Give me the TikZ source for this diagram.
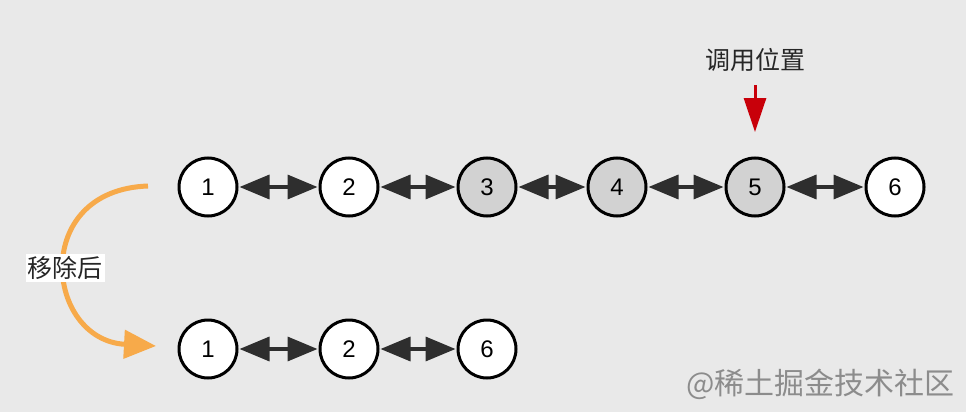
\documentclass[tikz,border=0pt]{standalone}
\usepackage{fontspec}
\setmainfont{Liberation Sans}
\newfontfamily\cjk{Noto Sans CJK SC}
\usetikzlibrary{arrows.meta}
\definecolor{bg}{HTML}{E9E9E9}
\definecolor{dark}{HTML}{2E2E2E}
\definecolor{hl}{HTML}{D2D2D2}
\definecolor{redarr}{HTML}{C8000A}
\definecolor{orng}{HTML}{F7AA4A}
\begin{document}
\begin{tikzpicture}[x=1pt,y=-1pt,
  nd/.style={circle,draw=black,line width=3pt,fill=white,minimum size=58pt,inner sep=0pt,font=\fontsize{24}{24}\selectfont},
  hlnd/.style={nd,fill=hl},
  link/.style={dark,line width=3.5pt,{Triangle[length=30pt,width=24pt]}-{Triangle[length=30pt,width=24pt]},shorten <=1pt,shorten >=1pt},
  lbl/.style={font=\cjk\fontsize{25}{25}\selectfont,text=black!85}]
\fill[bg] (0,0) rectangle (966,412);
\useasboundingbox (0,0) rectangle (966,412);
% top row
\node[nd] (a1) at (208,187) {1};
\node[nd] (a2) at (349,187) {2};
\node[hlnd] (a3) at (487,187) {3};
\node[hlnd] (a4) at (617,187) {4};
\node[hlnd] (a5) at (755,187) {5};
\node[nd] (a6) at (895,187) {6};
\draw[link] (a1) -- (a2);
\draw[link] (a2) -- (a3);
\draw[link] (a3) -- (a4);
\draw[link] (a4) -- (a5);
\draw[link] (a5) -- (a6);
% bottom row
\node[nd] (b1) at (208,349) {1};
\node[nd] (b2) at (349,349) {2};
\node[nd] (b6) at (487,349) {6};
\draw[link] (b1) -- (b2);
\draw[link] (b2) -- (b6);
% call position
\node[lbl] (call) at (755,60) {调用位置};
\coordinate (rtop) at (755,85);
\coordinate (rtip) at (755,132);
\draw[redarr,line width=3pt,-{Triangle[length=34pt,width=22pt]}] (rtop) -- (rtip);
% orange arc
\coordinate (os) at (148,186);
\coordinate (oe) at (156,346);
\draw[orng,line width=5pt,-{Triangle[length=32pt,width=28pt]}] (os) .. controls (30,190) and (45,340) .. (oe);
\node[lbl,fill=white,inner sep=2pt] (rm) at (65,268) {移除后};
% watermark
\node[font=\cjk\fontsize{30}{30}\selectfont,text=black!45,anchor=east] (wm) at (958,384) {@稀土掘金技术社区};
\end{tikzpicture}
\end{document}
